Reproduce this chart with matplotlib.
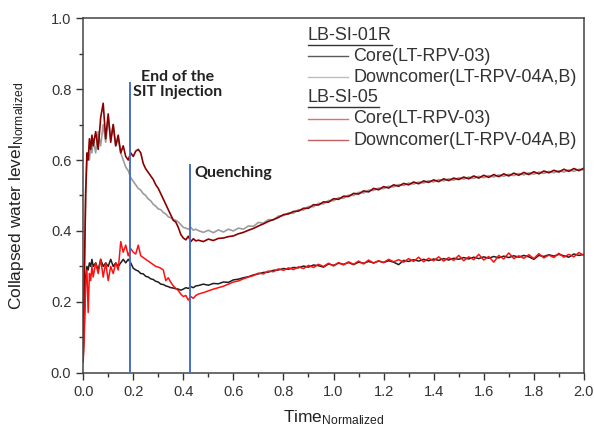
import numpy as np
import matplotlib
matplotlib.use('Agg')
import matplotlib.pyplot as plt

plt.rcParams['font.family'] = ['Liberation Sans', 'DejaVu Sans']
plt.rcParams['mathtext.fontset'] = 'custom'
plt.rcParams['mathtext.rm'] = 'Liberation Sans'
plt.rcParams['mathtext.it'] = 'Liberation Sans:italic'

# ---- data (time normalized) ----
t_early = [0.000, 0.005, 0.010, 0.015, 0.020, 0.025, 0.030, 0.035,
           0.04, 0.05, 0.06, 0.07, 0.08, 0.09, 0.10, 0.11, 0.12, 0.13,
           0.14, 0.15, 0.16, 0.17, 0.18, 0.19, 0.20, 0.21, 0.22, 0.23,
           0.24, 0.25, 0.26, 0.27, 0.28, 0.29, 0.30, 0.31, 0.32, 0.33,
           0.34, 0.35, 0.36, 0.37, 0.38, 0.39, 0.40, 0.41, 0.42, 0.43,
           0.44, 0.45]
t_late = [0.46, 0.48, 0.50, 0.52, 0.54, 0.56, 0.58, 0.60, 0.62, 0.64,
          0.66, 0.68, 0.70, 0.72, 0.74, 0.76, 0.78, 0.80, 0.82, 0.84,
          0.86, 0.88, 0.90, 0.92, 0.94, 0.96, 0.98, 1.00, 1.02, 1.04,
          1.06, 1.08, 1.10, 1.12, 1.14, 1.16, 1.18, 1.20, 1.22, 1.24,
          1.26, 1.28, 1.30, 1.32, 1.34, 1.36, 1.38, 1.40, 1.42, 1.44,
          1.46, 1.48, 1.50, 1.52, 1.54, 1.56, 1.58, 1.60, 1.62, 1.64,
          1.66, 1.68, 1.70, 1.72, 1.74, 1.76, 1.78, 1.80, 1.82, 1.84,
          1.86, 1.88, 1.90, 1.92, 1.94, 1.96, 1.98, 2.00]

# LB-SI-01R core (LT-RPV-03)
core_01r = [0.04, 0.15, 0.27, 0.30, 0.29, 0.31, 0.30, 0.32,
            0.30, 0.31, 0.29, 0.32, 0.30, 0.31, 0.30, 0.32, 0.30, 0.31,
            0.30, 0.31, 0.32, 0.31, 0.32, 0.31, 0.295, 0.29, 0.287, 0.28,
            0.279, 0.272, 0.270, 0.265, 0.263, 0.258, 0.256, 0.250, 0.249, 0.245,
            0.243, 0.240, 0.239, 0.237, 0.236, 0.233, 0.236, 0.240, 0.238, 0.243,
            0.240, 0.245,
            0.246, 0.250, 0.247, 0.252, 0.251, 0.256, 0.255, 0.262, 0.264, 0.268,
            0.271, 0.276, 0.279, 0.283, 0.284, 0.289, 0.290, 0.294, 0.292, 0.297,
            0.296, 0.301, 0.298, 0.304, 0.302, 0.298, 0.307, 0.303, 0.309, 0.306,
            0.311, 0.305, 0.312, 0.309, 0.314, 0.310, 0.315, 0.311, 0.316, 0.312,
            0.305, 0.317, 0.314, 0.319, 0.315, 0.320, 0.316, 0.321, 0.317, 0.322,
            0.318, 0.323, 0.320, 0.325, 0.321, 0.326, 0.322, 0.327, 0.323, 0.328,
            0.324, 0.329, 0.325, 0.330, 0.326, 0.331, 0.327, 0.320, 0.331, 0.328,
            0.333, 0.329, 0.334, 0.330, 0.326, 0.335, 0.331, 0.334]

# LB-SI-01R downcomer (LT-RPV-04A,B)
dc_01r = [0.03, 0.25, 0.52, 0.60, 0.62, 0.60, 0.64, 0.62,
          0.66, 0.62, 0.68, 0.64, 0.70, 0.65, 0.72, 0.66, 0.70, 0.64,
          0.66, 0.62, 0.60, 0.58, 0.57, 0.55, 0.54, 0.53, 0.52, 0.515,
          0.505, 0.50, 0.49, 0.485, 0.475, 0.47, 0.462, 0.46, 0.452, 0.448,
          0.44, 0.437, 0.432, 0.43, 0.425, 0.418, 0.41, 0.408, 0.405, 0.41,
          0.402, 0.405,
          0.401, 0.396, 0.402, 0.395, 0.403, 0.397, 0.405, 0.400, 0.408, 0.405,
          0.414, 0.413, 0.424, 0.422, 0.432, 0.431, 0.442, 0.443, 0.451, 0.450,
          0.460, 0.459, 0.469, 0.468, 0.478, 0.476, 0.486, 0.485, 0.494, 0.492,
          0.501, 0.500, 0.509, 0.507, 0.515, 0.514, 0.521, 0.519, 0.526, 0.524,
          0.531, 0.528, 0.535, 0.532, 0.538, 0.535, 0.542, 0.538, 0.545, 0.541,
          0.547, 0.543, 0.550, 0.546, 0.552, 0.548, 0.554, 0.550, 0.556, 0.552,
          0.558, 0.554, 0.560, 0.556, 0.562, 0.558, 0.564, 0.560, 0.566, 0.562,
          0.568, 0.564, 0.570, 0.566, 0.572, 0.568, 0.574, 0.572]

# LB-SI-05 core (LT-RPV-03)
core_05 = [0.03, 0.12, 0.25, 0.29, 0.17, 0.28, 0.26, 0.30,
           0.27, 0.31, 0.28, 0.32, 0.27, 0.31, 0.26, 0.30, 0.28, 0.31,
           0.29, 0.37, 0.34, 0.36, 0.33, 0.35, 0.34, 0.335, 0.36, 0.33,
           0.325, 0.32, 0.315, 0.31, 0.305, 0.30, 0.298, 0.295, 0.29, 0.26,
           0.268, 0.255, 0.245, 0.238, 0.232, 0.222, 0.215, 0.218, 0.205, 0.215,
           0.21, 0.218,
           0.222, 0.226, 0.231, 0.236, 0.240, 0.244, 0.250, 0.256, 0.259, 0.265,
           0.270, 0.274, 0.281, 0.279, 0.287, 0.285, 0.293, 0.289, 0.296, 0.291,
           0.299, 0.294, 0.303, 0.297, 0.306, 0.300, 0.309, 0.301, 0.311, 0.304,
           0.313, 0.306, 0.315, 0.307, 0.318, 0.309, 0.316, 0.311, 0.320, 0.313,
           0.319, 0.312, 0.322, 0.314, 0.326, 0.313, 0.323, 0.316, 0.327, 0.315,
           0.325, 0.317, 0.331, 0.316, 0.327, 0.319, 0.334, 0.318, 0.328, 0.312,
           0.331, 0.321, 0.338, 0.322, 0.330, 0.323, 0.333, 0.322, 0.336, 0.324,
           0.332, 0.325, 0.337, 0.326, 0.334, 0.327, 0.339, 0.331]

# LB-SI-05 downcomer (LT-RPV-04A,B)
dc_05 = [0.05, 0.30, 0.50, 0.62, 0.60, 0.66, 0.63, 0.67,
         0.64, 0.68, 0.63, 0.72, 0.76, 0.66, 0.73, 0.65, 0.70, 0.64,
         0.67, 0.62, 0.64, 0.61, 0.60, 0.62, 0.61, 0.625, 0.63, 0.62,
         0.59, 0.575, 0.565, 0.555, 0.545, 0.53, 0.52, 0.505, 0.49, 0.475,
         0.46, 0.445, 0.43, 0.425, 0.41, 0.39, 0.38, 0.375, 0.385, 0.37,
         0.378, 0.372,
         0.374, 0.370, 0.377, 0.373, 0.379, 0.380, 0.384, 0.386, 0.392, 0.396,
         0.402, 0.407, 0.414, 0.420, 0.427, 0.432, 0.438, 0.446, 0.448, 0.455,
         0.456, 0.464, 0.464, 0.474, 0.473, 0.482, 0.481, 0.491, 0.489, 0.498,
         0.497, 0.506, 0.504, 0.513, 0.510, 0.520, 0.516, 0.525, 0.521, 0.530,
         0.526, 0.534, 0.530, 0.538, 0.533, 0.541, 0.537, 0.544, 0.539, 0.547,
         0.542, 0.549, 0.545, 0.552, 0.547, 0.555, 0.549, 0.557, 0.551, 0.559,
         0.553, 0.561, 0.555, 0.563, 0.557, 0.565, 0.559, 0.567, 0.561, 0.569,
         0.564, 0.571, 0.566, 0.574, 0.568, 0.576, 0.570, 0.577]

t = np.array(t_early + t_late)

sit_end_t, sit_end_top = 0.188, 0.817
quench_t, quench_top = 0.427, 0.585

series = [
    ('Core(LT-RPV-03)', core_01r, '#1e1e1e', 1.1, '#5a5a5a'),
    ('Downcomer(LT-RPV-04A,B)', dc_01r, '#9c9c9c', 1.2, '#bdbdbd'),
    ('Core(LT-RPV-03)', core_05, '#ff1010', 1.1, '#e07070'),
    ('Downcomer(LT-RPV-04A,B)', dc_05, '#8a0000', 1.2, '#c06060'),
]

# ---- figure ----
fig = plt.figure(figsize=(5.94, 4.32), dpi=100)
ax = fig.add_axes([0.140, 0.137, 0.843, 0.821])

# draw order: gray, black, dark red, red
for idx in [1, 0, 3, 2]:
    name, y, col, lw, _ = series[idx]
    ax.plot(t, y, color=col, lw=lw, zorder=2)

ax.plot([sit_end_t, sit_end_t], [0, sit_end_top], color='#4a6fc9', lw=1.4, zorder=3)
ax.plot([quench_t, quench_t], [0, quench_top], color='#4a6fc9', lw=1.4, zorder=3)

ax.text(0.379, 0.813, 'End of the\nSIT Injection', ha='center', va='center',
        fontsize=11.5, fontweight='bold', family=['Lato', 'DejaVu Sans'],
        color='#222222', linespacing=1.05)
ax.text(0.443, 0.563, 'Quenching', ha='left', va='center',
        fontsize=11.5, fontweight='bold', family=['Lato', 'DejaVu Sans'],
        color='#222222')

ax.set_xlim(0, 2.0)
ax.set_ylim(0, 1.0)
ax.set_xticks(np.arange(0, 2.01, 0.2))
ax.set_yticks(np.arange(0, 1.01, 0.2))
ax.set_xticks(np.arange(0.1, 2.0, 0.2), minor=True)
ax.set_yticks(np.arange(0.1, 1.0, 0.2), minor=True)
ax.xaxis.set_major_formatter(plt.FormatStrFormatter('%.1f'))
ax.yaxis.set_major_formatter(plt.FormatStrFormatter('%.1f'))
ax.tick_params(which='both', direction='out', top=False, right=False,
               color='#333333', labelcolor='#333333', labelsize=10.5, width=1.0)
ax.tick_params(which='major', length=5)
ax.tick_params(which='minor', length=3)
for sp in ax.spines.values():
    sp.set_color('#444444')
    sp.set_linewidth(1.1)

ax.set_xlabel(r'Time$_{\mathrm{Normalized}}$', fontsize=12.5, color='#222222', labelpad=7)
ax.set_ylabel(r'Collapsed water level$_{\mathrm{Normalized}}$', fontsize=12.5,
              color='#222222', labelpad=18)

# ---- grouped legend ----
leg_x0, leg_x1, leg_tx = 0.449, 0.529, 0.539
row_y = [0.952, 0.893, 0.834, 0.775, 0.716, 0.656]
headers = {0: 'LB-SI-01R', 3: 'LB-SI-05'}
entries = {1: series[0], 2: series[1], 4: series[2], 5: series[3]}
head_texts = []
for r, label in headers.items():
    tx = ax.text(leg_x0, row_y[r], label, transform=ax.transAxes, ha='left', va='center',
                 fontsize=13, color='#333333')
    head_texts.append(tx)
for r, (name, _, _, _, lcol) in entries.items():
    ax.plot([leg_x0, leg_x1], [row_y[r], row_y[r]], transform=ax.transAxes,
            color=lcol, lw=1.0, clip_on=False)
    ax.text(leg_tx, row_y[r], name, transform=ax.transAxes, ha='left', va='center',
            fontsize=13, color='#333333')

fig.canvas.draw()
inv = ax.transAxes.inverted()
for tx in head_texts:
    bb = tx.get_window_extent()
    (xa, ya), (xb, _) = inv.transform([(bb.x0, bb.y0 - 1), (bb.x1, bb.y0)])
    ax.plot([xa, xb], [ya, ya], transform=ax.transAxes, color='#333333', lw=1.0)

fig.savefig('out.png', dpi=100)
